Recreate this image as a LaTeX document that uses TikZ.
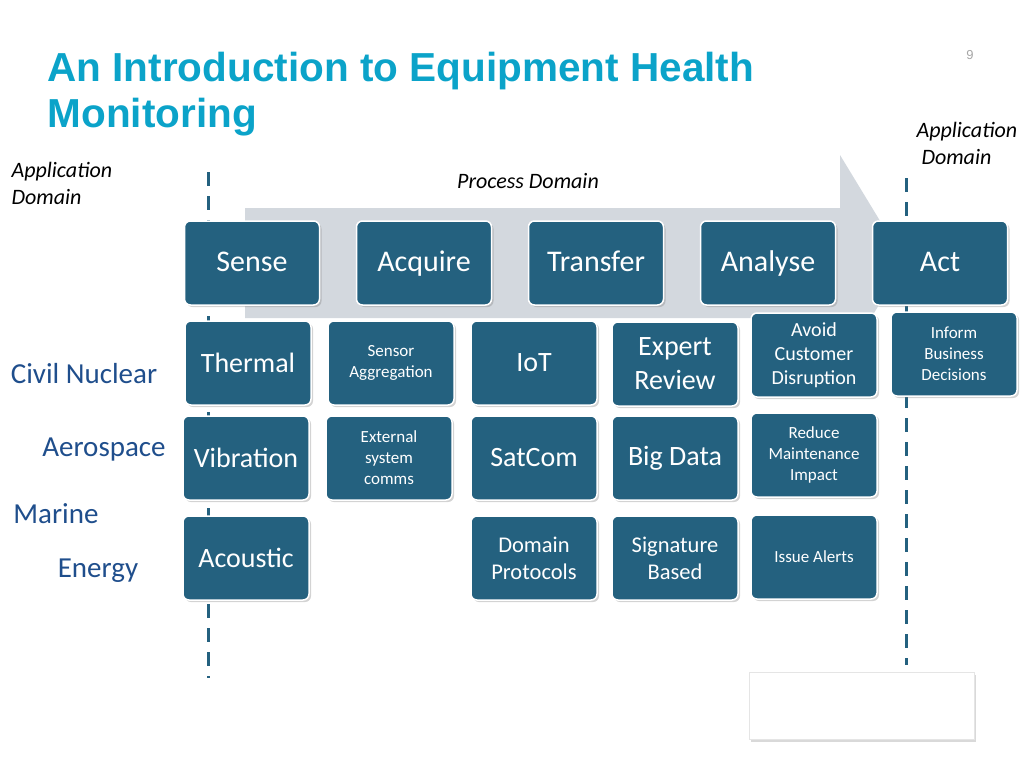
\documentclass[tikz,border=0pt]{standalone}
\usepackage{fontspec}
\setmainfont{Carlito}
\newfontfamily\titlefont{Liberation Sans}
\usetikzlibrary{shadows}
\definecolor{boxblue}{HTML}{24617F}
\definecolor{titlecyan}{HTML}{0BA3C9}
\definecolor{sidetext}{HTML}{1F4E8C}
\definecolor{arrowgrey}{HTML}{D3D8DE}
\tikzset{
  stage/.style={draw=white, line width=1.5pt, fill=boxblue, rounded corners=6pt,
    text=white, minimum width=135pt, minimum height=84pt, font=\fontsize{30}{34}\selectfont,
    text height=1.9em, text depth=0.2em,
    drop shadow={opacity=0.35, shadow xshift=2pt, shadow yshift=-2pt}},
  item/.style={stage, minimum width=126pt, align=center, text height=, text depth=,
    font=\fontsize{28}{34}\selectfont},
  small/.style={item, font=\fontsize{17}{21}\selectfont},
  side/.style={text=sidetext, font=\fontsize{29}{32}\selectfont},
  domlabel/.style={font=\itshape\fontsize{22}{27}\selectfont, align=left},
  border/.style={boxblue, line width=3pt, dash pattern=on 14pt off 10pt}
}
\begin{document}
\begin{tikzpicture}[x=1pt,y=-1pt]
  \useasboundingbox (0,0) rectangle (1024,768);
  % title
  \node[anchor=west, text=titlecyan, font=\titlefont\bfseries\fontsize{40.5}{46}\selectfont, align=left]
    (title) at (44,94) {An Introduction to Equipment Health\\Monitoring};
  \node[text=gray!70, font=\titlefont\fontsize{13}{15}\selectfont] (page) at (970,55) {9};
  % process arrow
  \fill[arrowgrey] (245,208) -- (840,208) -- (840,155) -- (905,262) -- (840,369)
    -- (840,318) -- (245,318) -- cycle;
  % domain borders
  \coordinate (lt) at (208,172); \coordinate (lb) at (208,678);
  \coordinate (rt) at (906,178); \coordinate (rb) at (906,665);
  \draw[border] (lt) -- (lb);
  \draw[border] (rt) -- (rb);
  \node[domlabel, anchor=west] (appl) at (8,183) {Application\\Domain};
  \node[domlabel, anchor=west] (appr) at (913,143) {Application\\\ Domain};
  \node[domlabel] (proc) at (528,181) {Process Domain};
  % stages
  \node[stage] (sense) at (252,263) {Sense};
  \node[stage] (acquire) at (424,263) {Acquire};
  \node[stage] (transfer) at (596,263) {Transfer};
  \node[stage] (analyse) at (768,263) {Analyse};
  \node[stage] (act) at (940,263) {Act};
  % first row
  \node[item] (thermal) at (248,363) {Thermal};
  \node[small] (aggr) at (391,363) {Sensor\\Aggregation};
  \node[item] (iot) at (534,363) {IoT};
  \node[item] (expert) at (675,364) {Expert\\Review};
  \node[small, font=\fontsize{20}{24}\selectfont] (avoid) at (814,355) {Avoid\\Customer\\Disruption};
  \node[small] (inform) at (954,354) {Inform\\Business\\Decisions};
  % second row
  \node[item] (vibration) at (246,458) {Vibration};
  \node[small] (comms) at (389,458) {External\\system\\comms};
  \node[item] (satcom) at (534,458) {SatCom};
  \node[item] (bigdata) at (675,458) {Big Data};
  \node[small] (reduce) at (814,455) {Reduce\\Maintenance\\Impact};
  % third row
  \node[item] (acoustic) at (246,558) {Acoustic};
  \node[item, font=\fontsize{22.5}{27}\selectfont] (protocols) at (534,558) {Domain\\Protocols};
  \node[item, font=\fontsize{22.5}{27}\selectfont] (signature) at (675,558) {Signature\\Based};
  \node[small] (alerts) at (814,557) {Issue Alerts};
  % sectors
  \node[side] (nuclear) at (84,374) {Civil Nuclear};
  \node[side] (aero) at (104,450) {Aerospace};
  \node[side] (marine) at (56,514) {Marine};
  \node[side] (energy) at (98,571) {Energy};
  % empty panel
  \node[fill=white, draw=gray!20, minimum width=225pt, minimum height=67pt,
    drop shadow={opacity=0.3, shadow xshift=1pt, shadow yshift=-2pt}] (panel) at (862,706) {};
\end{tikzpicture}
\end{document}
